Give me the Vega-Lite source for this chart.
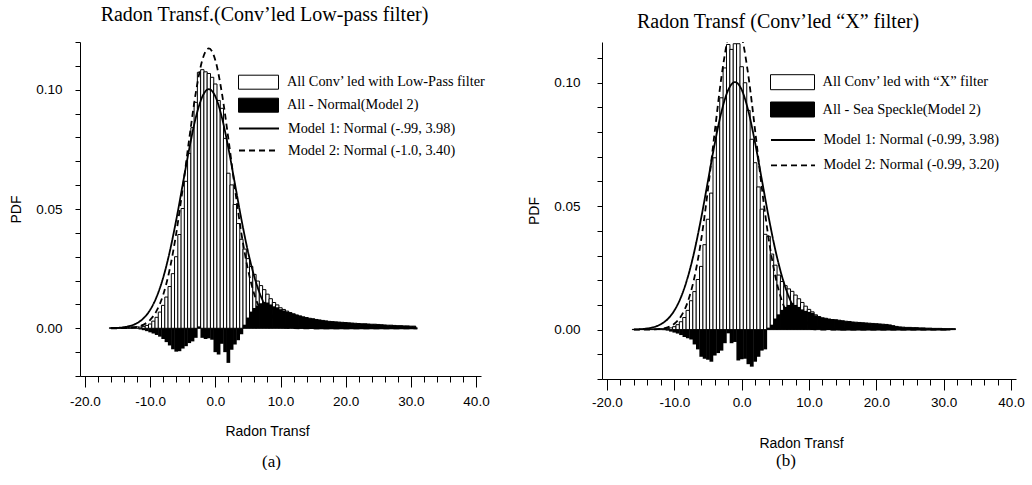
{
"$schema": "https://vega.github.io/schema/vega-lite/v6.json",
"background": "white",
"padding": {"left": 9, "top": 5, "right": 0, "bottom": 0},
"config": {
 "view": {"stroke": null},
 "font": "Liberation Sans",
 "axis": {"grid": false, "domainColor": "black", "tickColor": "black", "labelColor": "black", "titleColor": "black", "titleFontWeight": "normal", "labelFontSize": 13.5, "titleFontSize": 14, "domainWidth": 1, "tickWidth": 1, "labelFlush": false, "labelOverlap": false, "labelFont": "Liberation Sans", "titleFont": "Liberation Sans"},
 "title": {"font": "Liberation Serif", "fontWeight": "normal", "color": "black"},
 "legend": {"title": null, "orient": "none", "direction": "vertical", "symbolSize": 400, "labelFont": "Liberation Serif", "labelColor": "black", "labelLimit": 0, "padding": 0, "symbolStrokeColor": "black"}
},
"spacing": 37,
"resolve": {"scale": {"fill": "independent", "strokeDash": "independent"}, "legend": {"fill": "independent", "strokeDash": "independent"}},
"datasets": {
 "ha": [
{"c":-16,"hist":0.0002,"diff":0.0002},{"c":-15.5,"hist":0.0002,"diff":0.0002},{"c":-15,"hist":0.0003,"diff":0.0003},{"c":-14.5,"hist":0.0003,"diff":0.0003},{"c":-14,"hist":0.0004,"diff":0.0003},{"c":-13.5,"hist":0.0005,"diff":0.0004},{"c":-13,"hist":0.0006,"diff":0.0004},{"c":-12.5,"hist":0.0006,"diff":0.0002},{"c":-12,"hist":0.0006,"diff":-0.0001},{"c":-11.5,"hist":0.0005,"diff":-0.0005},{"c":-11,"hist":0.0008,"diff":-0.0008},{"c":-10.5,"hist":0.0012,"diff":-0.0012},{"c":-10,"hist":0.0018,"diff":-0.0017},{"c":-9.5,"hist":0.0030,"diff":-0.0022},{"c":-9,"hist":0.0046,"diff":-0.0028},{"c":-8.5,"hist":0.0068,"diff":-0.0035},{"c":-8,"hist":0.0096,"diff":-0.0045},{"c":-7.5,"hist":0.0131,"diff":-0.0058},{"c":-7,"hist":0.0175,"diff":-0.0072},{"c":-6.5,"hist":0.0229,"diff":-0.0088},{"c":-6,"hist":0.0300,"diff":-0.0098},{"c":-5.5,"hist":0.0393,"diff":-0.0096},{"c":-5,"hist":0.0502,"diff":-0.0085},{"c":-4.5,"hist":0.0616,"diff":-0.0075},{"c":-4,"hist":0.0733,"diff":-0.0062},{"c":-3.5,"hist":0.0841,"diff":-0.0055},{"c":-3,"hist":0.0947,"diff":-0.0040},{"c":-2.5,"hist":0.1073,"diff":0.0008},{"c":-2,"hist":0.1084,"diff":-0.0040},{"c":-1.5,"hist":0.1075,"diff":-0.0045},{"c":-1,"hist":0.1068,"diff":-0.0042},{"c":-0.5,"hist":0.1052,"diff":-0.0048},{"c":0,"hist":0.1024,"diff":-0.0100},{"c":0.5,"hist":0.0955,"diff":-0.0110},{"c":1,"hist":0.0922,"diff":-0.0065},{"c":1.5,"hist":0.0796,"diff":-0.0100},{"c":2,"hist":0.0650,"diff":-0.0145},{"c":2.5,"hist":0.0601,"diff":-0.0090},{"c":3,"hist":0.0519,"diff":-0.0068},{"c":3.5,"hist":0.0439,"diff":-0.0050},{"c":4,"hist":0.0373,"diff":-0.0025},{"c":4.5,"hist":0.0332,"diff":0.0015},{"c":5,"hist":0.0292,"diff":0.0045},{"c":5.5,"hist":0.0259,"diff":0.0070},{"c":6,"hist":0.0226,"diff":0.0085},{"c":6.5,"hist":0.0198,"diff":0.0095},{"c":7,"hist":0.0179,"diff":0.0105},{"c":7.5,"hist":0.0162,"diff":0.0110},{"c":8,"hist":0.0143,"diff":0.0108},{"c":8.5,"hist":0.0124,"diff":0.0100},{"c":9,"hist":0.0108,"diff":0.0092},{"c":9.5,"hist":0.0098,"diff":0.0088},{"c":10,"hist":0.0086,"diff":0.0080},{"c":10.5,"hist":0.0079,"diff":0.0075},{"c":11,"hist":0.0072,"diff":0.0070},{"c":11.5,"hist":0.0066,"diff":0.0064},{"c":12,"hist":0.0061,"diff":0.0060},{"c":12.5,"hist":0.0056,"diff":0.0056},{"c":13,"hist":0.0052,"diff":0.0052},{"c":13.5,"hist":0.0048,"diff":0.0048},{"c":14,"hist":0.0045,"diff":0.0045},{"c":14.5,"hist":0.0042,"diff":0.0042},{"c":15,"hist":0.0040,"diff":0.0040},{"c":15.5,"hist":0.0037,"diff":0.0037},{"c":16,"hist":0.0035,"diff":0.0035},{"c":16.5,"hist":0.0033,"diff":0.0033},{"c":17,"hist":0.0031,"diff":0.0031},{"c":17.5,"hist":0.0029,"diff":0.0029},{"c":18,"hist":0.0028,"diff":0.0028},{"c":18.5,"hist":0.0027,"diff":0.0027},{"c":19,"hist":0.0026,"diff":0.0026},{"c":19.5,"hist":0.0025,"diff":0.0025},{"c":20,"hist":0.0024,"diff":0.0024},{"c":20.5,"hist":0.0023,"diff":0.0023},{"c":21,"hist":0.0022,"diff":0.0022},{"c":21.5,"hist":0.0021,"diff":0.0021},{"c":22,"hist":0.0020,"diff":0.0020},{"c":22.5,"hist":0.0019,"diff":0.0019},{"c":23,"hist":0.0019,"diff":0.0019},{"c":23.5,"hist":0.0018,"diff":0.0018},{"c":24,"hist":0.0017,"diff":0.0017},{"c":24.5,"hist":0.0017,"diff":0.0017},{"c":25,"hist":0.0016,"diff":0.0016},{"c":25.5,"hist":0.0015,"diff":0.0015},{"c":26,"hist":0.0014,"diff":0.0014},{"c":26.5,"hist":0.0013,"diff":0.0013},{"c":27,"hist":0.0013,"diff":0.0013},{"c":27.5,"hist":0.0012,"diff":0.0012},{"c":28,"hist":0.0011,"diff":0.0011},{"c":28.5,"hist":0.0011,"diff":0.0011},{"c":29,"hist":0.0010,"diff":0.0010},{"c":29.5,"hist":0.0010,"diff":0.0010},{"c":30,"hist":0.0009,"diff":0.0009},{"c":30.5,"hist":0.0009,"diff":0.0009}
 ],
 "hb": [
{"c":-16,"hist":0.0001,"diff":0.0001},{"c":-15.5,"hist":0.0001,"diff":0.0001},{"c":-15,"hist":0.0002,"diff":0.0002},{"c":-14.5,"hist":0.0002,"diff":0.0002},{"c":-14,"hist":0.0002,"diff":0.0002},{"c":-13.5,"hist":0.0003,"diff":0.0002},{"c":-13,"hist":0.0003,"diff":0.0002},{"c":-12.5,"hist":0.0003,"diff":0.0001},{"c":-12,"hist":0.0004,"diff":0.0001},{"c":-11.5,"hist":0.0004,"diff":-0.0002},{"c":-11,"hist":0.0005,"diff":-0.0004},{"c":-10.5,"hist":0.0007,"diff":-0.0008},{"c":-10,"hist":0.0012,"diff":-0.0012},{"c":-9.5,"hist":0.0020,"diff":-0.0016},{"c":-9,"hist":0.0032,"diff":-0.0022},{"c":-8.5,"hist":0.0049,"diff":-0.0030},{"c":-8,"hist":0.0078,"diff":-0.0035},{"c":-7.5,"hist":0.0117,"diff":-0.0040},{"c":-7,"hist":0.0154,"diff":-0.0060},{"c":-6.5,"hist":0.0203,"diff":-0.0080},{"c":-6,"hist":0.0256,"diff":-0.0110},{"c":-5.5,"hist":0.0344,"diff":-0.0118},{"c":-5,"hist":0.0447,"diff":-0.0122},{"c":-4.5,"hist":0.0553,"diff":-0.0130},{"c":-4,"hist":0.0696,"diff":-0.0105},{"c":-3.5,"hist":0.0822,"diff":-0.0095},{"c":-3,"hist":0.0939,"diff":-0.0085},{"c":-2.5,"hist":0.1060,"diff":-0.0055},{"c":-2,"hist":0.1155,"diff":-0.0015},{"c":-1.5,"hist":0.1135,"diff":-0.0055},{"c":-1,"hist":0.1158,"diff":-0.0050},{"c":-0.5,"hist":0.1158,"diff":-0.0125},{"c":0,"hist":0.1065,"diff":-0.0120},{"c":0.5,"hist":0.1000,"diff":-0.0118},{"c":1,"hist":0.0888,"diff":-0.0140},{"c":1.5,"hist":0.0771,"diff":-0.0150},{"c":2,"hist":0.0676,"diff":-0.0130},{"c":2.5,"hist":0.0578,"diff":-0.0110},{"c":3,"hist":0.0488,"diff":-0.0085},{"c":3.5,"hist":0.0386,"diff":-0.0080},{"c":4,"hist":0.0378,"diff":0.0008},{"c":4.5,"hist":0.0306,"diff":0.0020},{"c":5,"hist":0.0261,"diff":0.0045},{"c":5.5,"hist":0.0221,"diff":0.0062},{"c":6,"hist":0.0195,"diff":0.0080},{"c":6.5,"hist":0.0178,"diff":0.0092},{"c":7,"hist":0.0165,"diff":0.0100},{"c":7.5,"hist":0.0155,"diff":0.0108},{"c":8,"hist":0.0140,"diff":0.0100},{"c":8.5,"hist":0.0125,"diff":0.0092},{"c":9,"hist":0.0110,"diff":0.0082},{"c":9.5,"hist":0.0095,"diff":0.0076},{"c":10,"hist":0.0082,"diff":0.0072},{"c":10.5,"hist":0.0072,"diff":0.0068},{"c":11,"hist":0.0060,"diff":0.0058},{"c":11.5,"hist":0.0053,"diff":0.0052},{"c":12,"hist":0.0048,"diff":0.0048},{"c":12.5,"hist":0.0046,"diff":0.0046},{"c":13,"hist":0.0043,"diff":0.0043},{"c":13.5,"hist":0.0041,"diff":0.0041},{"c":14,"hist":0.0040,"diff":0.0040},{"c":14.5,"hist":0.0038,"diff":0.0038},{"c":15,"hist":0.0036,"diff":0.0036},{"c":15.5,"hist":0.0034,"diff":0.0034},{"c":16,"hist":0.0033,"diff":0.0033},{"c":16.5,"hist":0.0031,"diff":0.0031},{"c":17,"hist":0.0030,"diff":0.0030},{"c":17.5,"hist":0.0029,"diff":0.0029},{"c":18,"hist":0.0028,"diff":0.0028},{"c":18.5,"hist":0.0027,"diff":0.0027},{"c":19,"hist":0.0026,"diff":0.0026},{"c":19.5,"hist":0.0025,"diff":0.0025},{"c":20,"hist":0.0024,"diff":0.0024},{"c":20.5,"hist":0.0023,"diff":0.0023},{"c":21,"hist":0.0022,"diff":0.0022},{"c":21.5,"hist":0.0021,"diff":0.0021},{"c":22,"hist":0.0019,"diff":0.0019},{"c":22.5,"hist":0.0016,"diff":0.0016},{"c":23,"hist":0.0013,"diff":0.0013},{"c":23.5,"hist":0.0011,"diff":0.0011},{"c":24,"hist":0.0010,"diff":0.0010},{"c":24.5,"hist":0.0009,"diff":0.0009},{"c":25,"hist":0.0009,"diff":0.0009},{"c":25.5,"hist":0.0008,"diff":0.0008},{"c":26,"hist":0.0008,"diff":0.0008},{"c":26.5,"hist":0.0007,"diff":0.0007},{"c":27,"hist":0.0007,"diff":0.0007},{"c":27.5,"hist":0.0006,"diff":0.0006},{"c":28,"hist":0.0006,"diff":0.0006},{"c":28.5,"hist":0.0005,"diff":0.0005},{"c":29,"hist":0.0005,"diff":0.0005},{"c":29.5,"hist":0.0005,"diff":0.0005},{"c":30,"hist":0.0004,"diff":0.0004},{"c":30.5,"hist":0.0004,"diff":0.0004},{"c":31,"hist":0.0004,"diff":0.0004},{"c":31.5,"hist":0.0004,"diff":0.0004}
 ],
 "cv": [
{"x":-16,"m1":0.00008,"m2a":0.000007,"m2b":0.000002},{"x":-15,"m1":0.0002,"m2a":0.000024,"m2b":0.000009},{"x":-14,"m1":0.00048,"m2a":0.000079,"m2b":0.000032},{"x":-13,"m1":0.00106,"m2a":0.000232,"m2b":0.000109},{"x":-12,"m1":0.00219,"m2a":0.000626,"m2b":0.000335},{"x":-11,"m1":0.00424,"m2a":0.00155,"m2b":0.000935},{"x":-10,"m1":0.00773,"m2a":0.00353,"m2b":0.00237},{"x":-9,"m1":0.01323,"m2a":0.00737,"m2b":0.00544},{"x":-8,"m1":0.02125,"m2a":0.0141,"m2b":0.01131},{"x":-7,"m1":0.03206,"m2a":0.02473,"m2b":0.02137},{"x":-6,"m1":0.04539,"m2a":0.03979,"m2b":0.0366},{"x":-5,"m1":0.06034,"m2a":0.05873,"m2b":0.05685},{"x":-4,"m1":0.07531,"m2a":0.07951,"m2b":0.0801},{"x":-3,"m1":0.08824,"m2a":0.0987,"m2b":0.10235},{"x":-2,"m1":0.09706,"m2a":0.11237,"m2b":0.11861},{"x":-1,"m1":0.10024,"m2a":0.11734,"m2b":0.12467},{"x":0,"m1":0.09719,"m2a":0.11237,"m2b":0.11884},{"x":1,"m1":0.08846,"m2a":0.0987,"m2b":0.10275},{"x":2,"m1":0.07559,"m2a":0.07951,"m2b":0.08057},{"x":3,"m1":0.06065,"m2a":0.05873,"m2b":0.0573},{"x":4,"m1":0.04568,"m2a":0.03979,"m2b":0.03696},{"x":5,"m1":0.0323,"m2a":0.02473,"m2b":0.02162},{"x":6,"m1":0.02144,"m2a":0.0141,"m2b":0.01147},{"x":7,"m1":0.01336,"m2a":0.00737,"m2b":0.00552},{"x":8,"m1":0.00782,"m2a":0.00353,"m2b":0.00241},{"x":9,"m1":0.0043,"m2a":0.00155,"m2b":0.00095},{"x":10,"m1":0.00222,"m2a":0.00063,"m2b":0.00034},{"x":11,"m1":0.00107,"m2a":0.00023,"m2b":0.00011},{"x":12,"m1":0.00049,"m2a":0.00008,"m2b":0.00003},{"x":13,"m1":0.00021,"m2a":0.00002,"m2b":0.00001},{"x":14,"m1":0.00008,"m2a":0.00001,"m2b":0},{"x":15,"m1":0.00003,"m2a":0,"m2b":0},{"x":16,"m1":0,"m2a":0,"m2b":0},{"x":20,"m1":0,"m2a":0,"m2b":0},{"x":25,"m1":0,"m2a":0,"m2b":0},{"x":31,"m1":0,"m2a":0,"m2b":0}
 ]
},
"hconcat": [
 {
  "title": {"text": "(a)", "orient": "bottom", "anchor": "middle", "fontSize": 17, "offset": 14.7, "dx": 22},
  "hconcat": [
   {
    "width": 401, "height": 334,
    "title": {"text": "Radon Transf.(Conv’led Low-pass filter)", "fontSize": 20, "offset": 10, "dx": -16},
    "layer": [
     {"data": {"name": "ha"}, "mark": {"type": "bar", "orient": "vertical", "size": 3.35, "stroke": "black", "strokeWidth": 1},
      "encoding": {
       "x": {"field": "c", "type": "quantitative", "title": "Radon Transf", "scale": {"domain": [-20, 40], "nice": false},
             "axis": {"values": [-20,-18,-16,-14,-12,-10,-8,-6,-4,-2,0,2,4,6,8,10,12,14,16,18,20,22,24,26,28,30,32,34,36,38,40], "labelExpr": "datum.value % 10 === 0 ? (datum.value < 0 ? '-' : '') + format(abs(datum.value), '.1f') : ''", "labelOverlap": false, "labelFlush": false, "tickSize": {"condition": {"test": "datum.value % 10 === 0", "value": 11}, "value": 6}, "labelPadding": 7, "titlePadding": 17.3, "titleX": 187}},
       "y": {"field": "hist", "type": "quantitative", "title": "PDF", "scale": {"domain": [-0.02, 0.12], "nice": false, "zero": false},
             "axis": {"values": [-0.02,-0.01,0,0.01,0.02,0.03,0.04,0.05,0.06,0.07,0.08,0.09,0.1,0.11,0.12], "labelExpr": "round(datum.value*100) % 5 === 0 ? format(datum.value, '.2f') : ''", "labelOverlap": false, "tickSize": 5, "labelPadding": 13, "titlePadding": 12}},
       "fill": {"datum": "All Conv’ led with Low-Pass filter", "type": "nominal",
                "scale": {"domain": ["All Conv’ led with Low-Pass filter", "All - Normal(Model 2)"], "range": ["white", "black"]},
                "legend": {"legendX": 168, "legendY": 29.7, "symbolType": "M-2,-0.7H2V0.7H-2Z", "symbolStrokeWidth": 1, "labelFontSize": 14.3, "labelOffset": 18, "rowPadding": 3}}
      }},
     {"data": {"name": "ha"}, "mark": {"type": "bar", "orient": "vertical", "size": 3.7},
      "encoding": {
       "x": {"field": "c", "type": "quantitative", "title": "Radon Transf",
             "axis": {"values": [-20,-18,-16,-14,-12,-10,-8,-6,-4,-2,0,2,4,6,8,10,12,14,16,18,20,22,24,26,28,30,32,34,36,38,40], "labelExpr": "datum.value % 10 === 0 ? (datum.value < 0 ? '-' : '') + format(abs(datum.value), '.1f') : ''", "labelOverlap": false, "labelFlush": false, "tickSize": {"condition": {"test": "datum.value % 10 === 0", "value": 11}, "value": 6}, "labelPadding": 7, "titlePadding": 17.3, "titleX": 187}},
       "y": {"field": "diff", "type": "quantitative", "title": "PDF",
             "axis": {"values": [-0.02,-0.01,0,0.01,0.02,0.03,0.04,0.05,0.06,0.07,0.08,0.09,0.1,0.11,0.12], "labelExpr": "round(datum.value*100) % 5 === 0 ? format(datum.value, '.2f') : ''", "labelOverlap": false, "tickSize": 5, "labelPadding": 13, "titlePadding": 12}},
       "fill": {"datum": "All - Normal(Model 2)", "type": "nominal"}
      }},
     {"data": {"name": "cv"}, "mark": {"type": "line", "color": "black", "strokeWidth": 1.8, "interpolate": "monotone", "clip": true},
      "encoding": {
       "x": {"field": "x", "type": "quantitative", "title": "Radon Transf",
             "axis": {"values": [-20,-18,-16,-14,-12,-10,-8,-6,-4,-2,0,2,4,6,8,10,12,14,16,18,20,22,24,26,28,30,32,34,36,38,40], "labelExpr": "datum.value % 10 === 0 ? (datum.value < 0 ? '-' : '') + format(abs(datum.value), '.1f') : ''", "labelOverlap": false, "labelFlush": false, "tickSize": {"condition": {"test": "datum.value % 10 === 0", "value": 11}, "value": 6}, "labelPadding": 7, "titlePadding": 17.3, "titleX": 187}},
       "y": {"field": "m1", "type": "quantitative", "title": "PDF",
             "axis": {"values": [-0.02,-0.01,0,0.01,0.02,0.03,0.04,0.05,0.06,0.07,0.08,0.09,0.1,0.11,0.12], "labelExpr": "round(datum.value*100) % 5 === 0 ? format(datum.value, '.2f') : ''", "labelOverlap": false, "tickSize": 5, "labelPadding": 13, "titlePadding": 12}},
       "strokeDash": {"datum": "Model 1: Normal (-.99, 3.98)", "type": "nominal",
                      "scale": {"domain": ["Model 1: Normal (-.99, 3.98)", "Model 2: Normal (-1.0, 3.40)"], "range": [[1, 0], [6, 4]]},
                      "legend": {"legendX": 168, "legendY": 75.5, "symbolType": "M-2,0H2", "symbolStrokeWidth": 1.8, "labelFontSize": 14.3, "labelOffset": 18, "rowPadding": 3}}
      }},
     {"data": {"name": "cv"}, "mark": {"type": "line", "color": "black", "strokeWidth": 1.8, "interpolate": "monotone", "clip": true},
      "encoding": {
       "x": {"field": "x", "type": "quantitative", "title": "Radon Transf",
             "axis": {"values": [-20,-18,-16,-14,-12,-10,-8,-6,-4,-2,0,2,4,6,8,10,12,14,16,18,20,22,24,26,28,30,32,34,36,38,40], "labelExpr": "datum.value % 10 === 0 ? (datum.value < 0 ? '-' : '') + format(abs(datum.value), '.1f') : ''", "labelOverlap": false, "labelFlush": false, "tickSize": {"condition": {"test": "datum.value % 10 === 0", "value": 11}, "value": 6}, "labelPadding": 7, "titlePadding": 17.3, "titleX": 187}},
       "y": {"field": "m2a", "type": "quantitative", "title": "PDF",
             "axis": {"values": [-0.02,-0.01,0,0.01,0.02,0.03,0.04,0.05,0.06,0.07,0.08,0.09,0.1,0.11,0.12], "labelExpr": "round(datum.value*100) % 5 === 0 ? format(datum.value, '.2f') : ''", "labelOverlap": false, "tickSize": 5, "labelPadding": 13, "titlePadding": 12}},
       "strokeDash": {"datum": "Model 2: Normal (-1.0, 3.40)", "type": "nominal"}
      }}
    ]
   }
  ]
 },
 {
  "title": {"text": "(b)", "orient": "bottom", "anchor": "middle", "fontSize": 17, "offset": 2, "dx": 10},
  "hconcat": [
   {
    "width": 414, "height": 337,
    "title": {"text": "Radon Transf (Conv’led “X” filter)", "fontSize": 20, "offset": 10, "dx": -31},
    "layer": [
     {"data": {"name": "hb"}, "mark": {"type": "bar", "orient": "vertical", "size": 3.45, "stroke": "black", "strokeWidth": 1},
      "encoding": {
       "x": {"field": "c", "type": "quantitative", "title": "Radon Transf", "scale": {"domain": [-20, 40], "nice": false},
             "axis": {"values": [-20,-18,-16,-14,-12,-10,-8,-6,-4,-2,0,2,4,6,8,10,12,14,16,18,20,22,24,26,28,30,32,34,36,38,40], "labelExpr": "datum.value % 10 === 0 ? (datum.value < 0 ? '-' : '') + format(abs(datum.value), '.1f') : ''", "labelOverlap": false, "labelFlush": false, "tickSize": {"condition": {"test": "datum.value % 10 === 0", "value": 11}, "value": 6}, "labelPadding": 5, "titlePadding": 28.4, "titleX": 199}},
       "y": {"field": "hist", "type": "quantitative", "title": "PDF", "scale": {"domain": [-0.02, 0.1165], "nice": false, "zero": false},
             "axis": {"values": [-0.02,-0.01,0,0.01,0.02,0.03,0.04,0.05,0.06,0.07,0.08,0.09,0.1,0.11], "labelExpr": "round(datum.value*100) % 5 === 0 ? format(datum.value, '.2f') : ''", "labelOverlap": false, "tickSize": 5, "labelPadding": 17, "titlePadding": 12}},
       "fill": {"datum": "All Conv’ led with “X” filter", "type": "nominal",
                "scale": {"domain": ["All Conv’ led with “X” filter", "All - Sea Speckle(Model 2)"], "range": ["white", "black"]},
                "legend": {"legendX": 180, "legendY": 29.7, "symbolType": "M-2.2,-0.75H2.2V0.75H-2.2Z", "symbolStrokeWidth": 1, "labelFontSize": 14.4, "labelOffset": 19.5, "rowPadding": 7.3}}
      }},
     {"data": {"name": "hb"}, "mark": {"type": "bar", "orient": "vertical", "size": 3.8},
      "encoding": {
       "x": {"field": "c", "type": "quantitative", "title": "Radon Transf",
             "axis": {"values": [-20,-18,-16,-14,-12,-10,-8,-6,-4,-2,0,2,4,6,8,10,12,14,16,18,20,22,24,26,28,30,32,34,36,38,40], "labelExpr": "datum.value % 10 === 0 ? (datum.value < 0 ? '-' : '') + format(abs(datum.value), '.1f') : ''", "labelOverlap": false, "labelFlush": false, "tickSize": {"condition": {"test": "datum.value % 10 === 0", "value": 11}, "value": 6}, "labelPadding": 5, "titlePadding": 28.4, "titleX": 199}},
       "y": {"field": "diff", "type": "quantitative", "title": "PDF",
             "axis": {"values": [-0.02,-0.01,0,0.01,0.02,0.03,0.04,0.05,0.06,0.07,0.08,0.09,0.1,0.11], "labelExpr": "round(datum.value*100) % 5 === 0 ? format(datum.value, '.2f') : ''", "labelOverlap": false, "tickSize": 5, "labelPadding": 17, "titlePadding": 12}},
       "fill": {"datum": "All - Sea Speckle(Model 2)", "type": "nominal"}
      }},
     {"data": {"name": "cv"}, "mark": {"type": "line", "color": "black", "strokeWidth": 1.8, "interpolate": "monotone", "clip": true},
      "encoding": {
       "x": {"field": "x", "type": "quantitative", "title": "Radon Transf",
             "axis": {"values": [-20,-18,-16,-14,-12,-10,-8,-6,-4,-2,0,2,4,6,8,10,12,14,16,18,20,22,24,26,28,30,32,34,36,38,40], "labelExpr": "datum.value % 10 === 0 ? (datum.value < 0 ? '-' : '') + format(abs(datum.value), '.1f') : ''", "labelOverlap": false, "labelFlush": false, "tickSize": {"condition": {"test": "datum.value % 10 === 0", "value": 11}, "value": 6}, "labelPadding": 5, "titlePadding": 28.4, "titleX": 199}},
       "y": {"field": "m1", "type": "quantitative", "title": "PDF",
             "axis": {"values": [-0.02,-0.01,0,0.01,0.02,0.03,0.04,0.05,0.06,0.07,0.08,0.09,0.1,0.11], "labelExpr": "round(datum.value*100) % 5 === 0 ? format(datum.value, '.2f') : ''", "labelOverlap": false, "tickSize": 5, "labelPadding": 17, "titlePadding": 12}},
       "strokeDash": {"datum": "Model 1: Normal (-0.99, 3.98)", "type": "nominal",
                      "scale": {"domain": ["Model 1: Normal (-0.99, 3.98)", "Model 2: Normal (-0.99, 3.20)"], "range": [[1, 0], [6, 4]]},
                      "legend": {"legendX": 180, "legendY": 87, "symbolType": "M-2.2,0H2.2", "symbolStrokeWidth": 1.8, "labelFontSize": 14.4, "labelOffset": 19.5, "rowPadding": 7.3}}
      }},
     {"data": {"name": "cv"}, "mark": {"type": "line", "color": "black", "strokeWidth": 1.8, "interpolate": "monotone", "clip": true},
      "encoding": {
       "x": {"field": "x", "type": "quantitative", "title": "Radon Transf",
             "axis": {"values": [-20,-18,-16,-14,-12,-10,-8,-6,-4,-2,0,2,4,6,8,10,12,14,16,18,20,22,24,26,28,30,32,34,36,38,40], "labelExpr": "datum.value % 10 === 0 ? (datum.value < 0 ? '-' : '') + format(abs(datum.value), '.1f') : ''", "labelOverlap": false, "labelFlush": false, "tickSize": {"condition": {"test": "datum.value % 10 === 0", "value": 11}, "value": 6}, "labelPadding": 5, "titlePadding": 28.4, "titleX": 199}},
       "y": {"field": "m2b", "type": "quantitative", "title": "PDF",
             "axis": {"values": [-0.02,-0.01,0,0.01,0.02,0.03,0.04,0.05,0.06,0.07,0.08,0.09,0.1,0.11], "labelExpr": "round(datum.value*100) % 5 === 0 ? format(datum.value, '.2f') : ''", "labelOverlap": false, "tickSize": 5, "labelPadding": 17, "titlePadding": 12}},
       "strokeDash": {"datum": "Model 2: Normal (-0.99, 3.20)", "type": "nominal"}
      }}
    ]
   }
  ]
 }
]
}
